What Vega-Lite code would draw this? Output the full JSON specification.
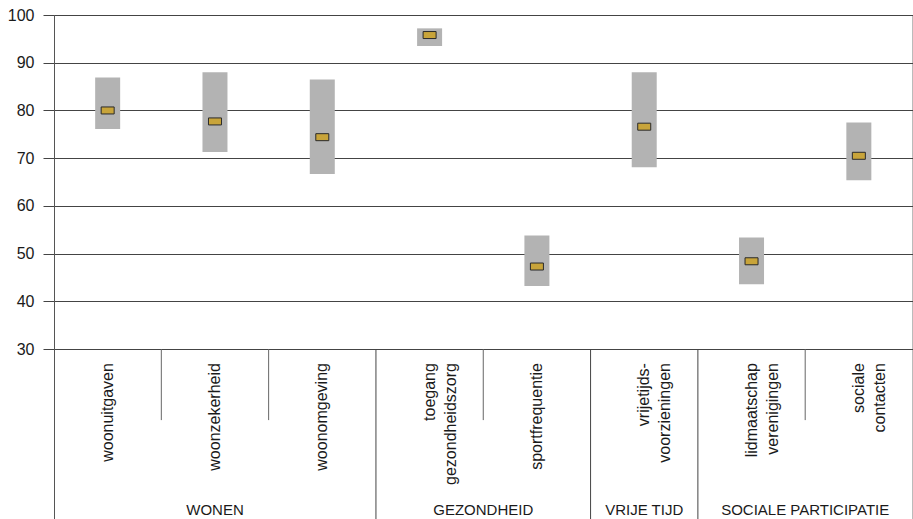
{
  "$schema": "https://vega.github.io/schema/vega-lite/v6.json",
  "autosize": "none",
  "padding": {"left": 54, "top": 15, "right": 1, "bottom": 0},
  "width": 858.5,
  "height": 504,
  "background": "white",
  "config": {
    "view": {"stroke": "#777", "strokeWidth": 1},
    "font": "Liberation Sans"
  },
  "data": {
    "values": [
      {"cat": "woonuitgaven", "group": "WONEN", "low": 76.1, "high": 86.9, "mean": 80.0},
      {"cat": "woonzekerheid", "group": "WONEN", "low": 71.3, "high": 88.0, "mean": 77.7},
      {"cat": "woonomgeving", "group": "WONEN", "low": 66.7, "high": 86.5, "mean": 74.4},
      {"cat": "toegang\ngezondheidszorg", "group": "GEZONDHEID", "low": 93.5, "high": 97.2, "mean": 95.8},
      {"cat": "sportfrequentie", "group": "GEZONDHEID", "low": 43.2, "high": 53.8, "mean": 47.3},
      {"cat": "vrijetijds-\nvoorzieningen", "group": "VRIJE TIJD", "low": 68.1, "high": 88.0, "mean": 76.6},
      {"cat": "lidmaatschap\nverenigingen", "group": "SOCIALE PARTICIPATIE", "low": 43.6, "high": 53.4, "mean": 48.4},
      {"cat": "sociale\ncontacten", "group": "SOCIALE PARTICIPATIE", "low": 65.4, "high": 77.5, "mean": 70.5}
    ]
  },
  "layer": [
    {
      "mark": {"type": "bar", "color": "#b3b3b3", "width": 25},
      "encoding": {
        "x": {"field": "cat", "type": "nominal", "axis": null,
          "scale": {"domain": ["woonuitgaven", "woonzekerheid", "woonomgeving", "toegang\ngezondheidszorg", "sportfrequentie", "vrijetijds-\nvoorzieningen", "lidmaatschap\nverenigingen", "sociale\ncontacten"], "paddingInner": 0, "paddingOuter": 0}},
        "y": {"field": "low", "type": "quantitative",
          "scale": {"domain": [-5.6, 100], "nice": false, "zero": false},
          "axis": {"values": [30, 40, 50, 60, 70, 80, 90, 100], "title": null, "grid": true, "gridColor": "#444", "gridWidth": 1, "domainColor": "#555", "tickColor": "#444", "tickSize": 11, "labelFont": "Liberation Sans", "labelFontSize": 16, "labelColor": "#1a1a1a", "labelPadding": 9}},
        "y2": {"field": "high"}
      }
    },
    {
      "mark": {"type": "tick", "orient": "horizontal", "size": 13, "thickness": 7, "color": "#c8a43a", "stroke": "#2a2a2a", "strokeWidth": 1, "opacity": 1},
      "encoding": {
        "x": {"field": "cat", "type": "nominal"},
        "y": {"field": "mean", "type": "quantitative", "title": null}
      }
    },
    {
      "transform": [{"filter": {"field": "cat", "oneOf": ["woonzekerheid", "woonomgeving", "sportfrequentie", "sociale\ncontacten"]}}],
      "mark": {"type": "rule", "color": "#666", "strokeWidth": 1},
      "encoding": {
        "x": {"field": "cat", "type": "nominal", "bandPosition": 0},
        "y": {"datum": 30, "type": "quantitative", "title": null},
        "y2": {"datum": 15.12}
      }
    },
    {
      "transform": [{"filter": {"field": "cat", "oneOf": ["toegang\ngezondheidszorg", "vrijetijds-\nvoorzieningen", "lidmaatschap\nverenigingen"]}}],
      "mark": {"type": "rule", "color": "#444", "strokeWidth": 1},
      "encoding": {
        "x": {"field": "cat", "type": "nominal", "bandPosition": 0},
        "y": {"datum": 30, "type": "quantitative", "title": null},
        "y2": {"datum": -5.6}
      }
    },
    {
      "mark": {"type": "text", "angle": 270, "align": "right", "baseline": "middle", "lineBreak": "\n", "lineHeight": 21, "fontSize": 16, "font": "Liberation Sans", "color": "#1a1a1a"},
      "encoding": {
        "x": {"field": "cat", "type": "nominal"},
        "y": {"datum": 27.07, "type": "quantitative", "title": null},
        "text": {"field": "cat", "type": "nominal"}
      }
    },
    {
      "transform": [{"filter": {"field": "cat", "oneOf": ["woonzekerheid", "vrijetijds-\nvoorzieningen"]}}],
      "mark": {"type": "text", "align": "center", "baseline": "middle", "fontSize": 15, "font": "Liberation Sans", "color": "#1a1a1a"},
      "encoding": {
        "x": {"field": "cat", "type": "nominal"},
        "y": {"datum": -3.73, "type": "quantitative", "title": null},
        "text": {"field": "group", "type": "nominal"}
      }
    },
    {
      "transform": [{"filter": {"field": "cat", "oneOf": ["sportfrequentie", "sociale\ncontacten"]}}],
      "mark": {"type": "text", "align": "center", "baseline": "middle", "fontSize": 15, "font": "Liberation Sans", "color": "#1a1a1a"},
      "encoding": {
        "x": {"field": "cat", "type": "nominal", "bandPosition": 0},
        "y": {"datum": -3.73, "type": "quantitative", "title": null},
        "text": {"field": "group", "type": "nominal"}
      }
    }
  ]
}
